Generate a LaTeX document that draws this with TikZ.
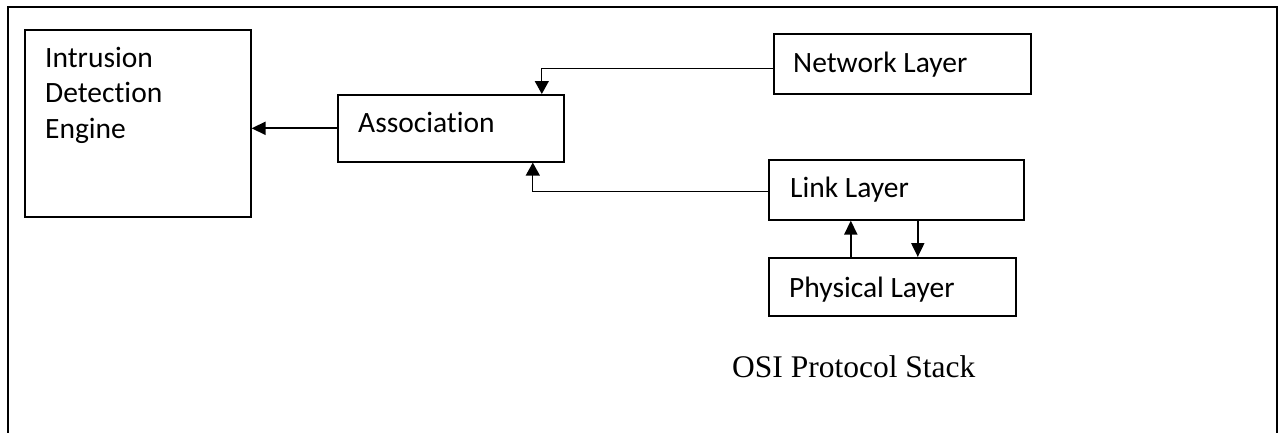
\documentclass[tikz,border=0pt]{standalone}
\usepackage{fontspec}
\setmainfont{Carlito}[Ligatures=NoCommon]
\newfontfamily\timesfont{Liberation Serif}
\usetikzlibrary{arrows.meta}
\begin{document}
\begin{tikzpicture}[x=1pt,y=-1pt,
  box/.style={draw=black,line width=1.6pt,anchor=north west,inner sep=0pt},
  lbl/.style={anchor=base west,inner sep=0pt,font=\fontsize{29.5}{35.5}\selectfont},
  conn/.style={line width=1.3pt,-{Triangle[length=13pt,width=14pt]}},
  thick conn/.style={line width=2pt,-{Triangle[length=14pt,width=13pt]}}]
\useasboundingbox (0,0) rectangle (1279,432);
\draw[line width=2.6pt] (8,433) -- (8,7) -- (1277,7) -- (1277,433);
\node[box,minimum width=226pt,minimum height=187pt] (ide) at (24,29) {};
\node[box,minimum width=226pt,minimum height=67pt] (assoc) at (337,94) {};
\node[box,minimum width=257pt,minimum height=60pt] (net) at (773,33) {};
\node[box,minimum width=255pt,minimum height=60pt] (link) at (768,159) {};
\node[box,minimum width=247pt,minimum height=58pt] (phys) at (768,257) {};
\node[lbl,align=left] (idet) at (45,138) {Intrusion\\Detection\\Engine};
\node[lbl] (assoct) at (358,132) {Association};
\node[lbl] (nett) at (793,72) {Network Layer};
\node[lbl] (linkt) at (790,197) {Link Layer};
\node[lbl] (physt) at (789,297) {Physical Layer};
\node[anchor=base west,inner sep=0pt,font=\timesfont\fontsize{31.5}{36}\selectfont] (osi) at (732,377) {OSI Protocol Stack};
\draw[thick conn] (assoc.west) -- (ide.east |- assoc.west);
\draw[conn] ([yshift=-5pt]net.west) -| ([xshift=91pt]assoc.north);
\draw[conn] ([yshift=-2pt]link.west) -| ([xshift=82pt]assoc.south);
\draw[thick conn] ([xshift=-41.5pt]phys.north) -- ([xshift=-41.5pt]phys.north |- link.south);
\draw[thick conn] ([xshift=21.5pt]link.south) -- ([xshift=21.5pt]link.south |- phys.north);
\end{tikzpicture}
\end{document}
